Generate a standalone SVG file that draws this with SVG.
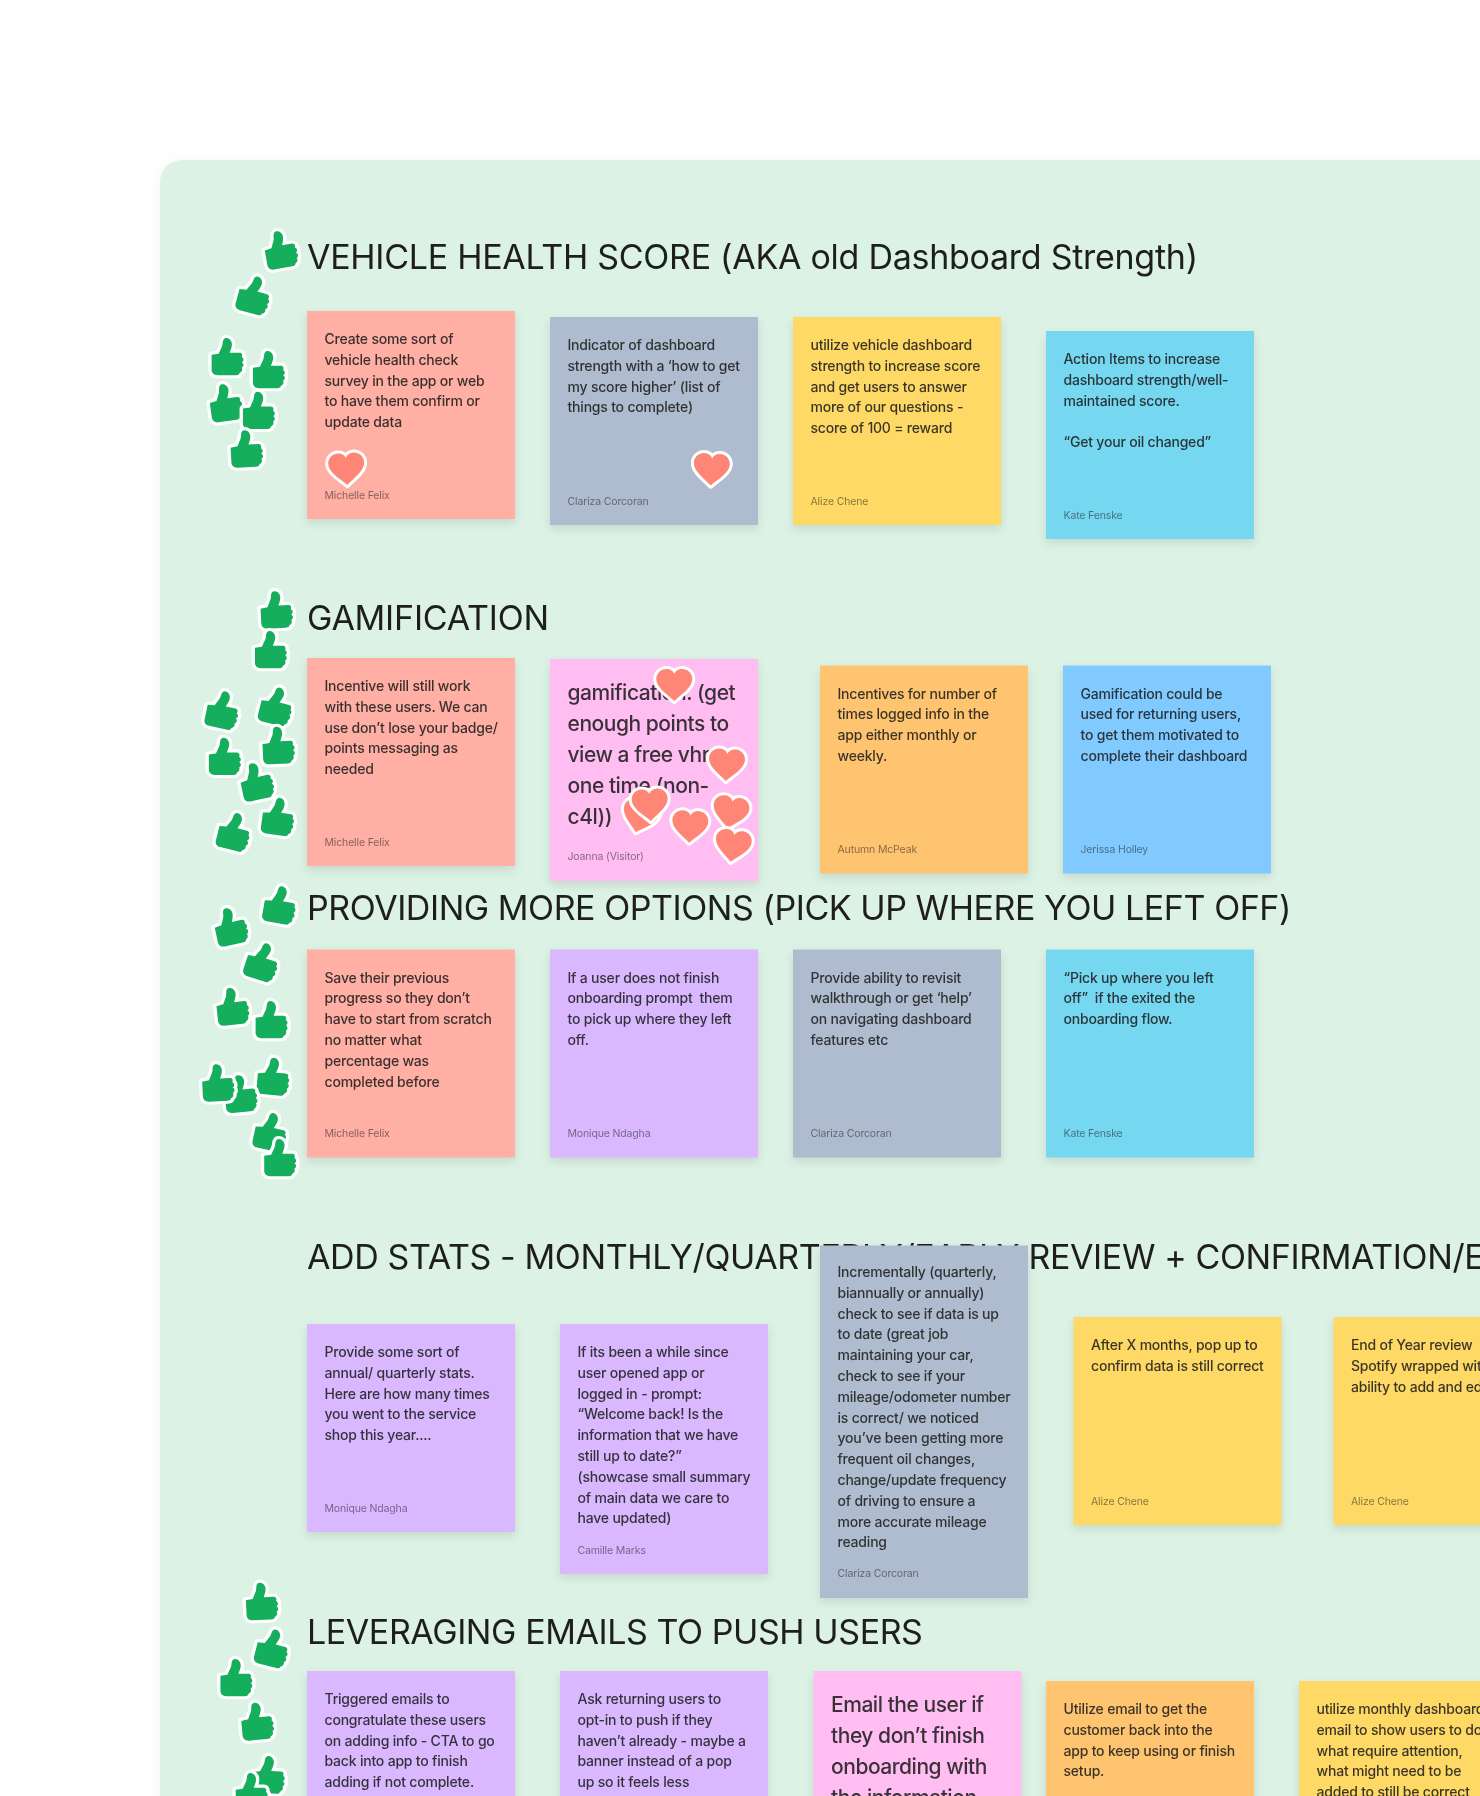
<svg xmlns="http://www.w3.org/2000/svg" width="1480" height="1796" viewBox="0 0 1480 1796">
<defs>
<style>
text{font-family:Inter,"Noto Sans","Liberation Sans",sans-serif}
.t{font-size:34px;fill:#1e1e1e;letter-spacing:-.44px;font-weight:430}
.b{font-size:14px;fill:#1e1e1e;fill-opacity:.88;letter-spacing:-.2px;font-weight:450}
.l{font-size:21px;fill:#1e1e1e;fill-opacity:.88;letter-spacing:-.46px;font-weight:450}
.a{font-size:10.5px;fill:#1e1e1e;fill-opacity:.55;letter-spacing:-.15px}
.s{filter:url(#sh)}
.red{fill:#FFAFA3}.gray{fill:#AFBCCF}.yel{fill:#FFD966}.sky{fill:#75D7F0}.pink{fill:#FFBDF2}.ora{fill:#FFC470}.blu{fill:#80CAFF}.vio{fill:#D9B8FF}
</style>
<filter id="sh" x="-20%" y="-20%" width="140%" height="140%" color-interpolation-filters="sRGB"><feDropShadow dx="0" dy="4" stdDeviation="5" flood-color="#000" flood-opacity=".1"/></filter>
<filter id="ps" x="-5%" y="-5%" width="110%" height="110%" color-interpolation-filters="sRGB"><feDropShadow dx="0" dy="2" stdDeviation="8" flood-color="#000" flood-opacity=".04"/></filter>
<filter id="soft" filterUnits="userSpaceOnUse" x="0" y="0" width="1480" height="1796" color-interpolation-filters="sRGB"><feGaussianBlur stdDeviation=".45"/></filter>
<path id="th" transform="scale(1.16 1.07)" d="M-13 -2L-7 -3L-4 -10C-3 -13 -4 -16 -1.500 -17.500C2 -18.500 4.500 -15 4.500 -12C4.500 -9 3.500 -7 2.500 -4L11 -4C13 -4 14 -2 13 0C15 1 15 4 13 5C15 6 15 9 13 10C14 12 13 14 11 15C11 17 9 17 8 17L-8 17C-11 17 -13 15 -13 12Z" fill="#14AE5C" stroke="#fff" stroke-width="5.800" stroke-linejoin="round" paint-order="stroke"/>
<path id="he" d="M0 16C-6 10 -18 3 -18 -6C-18 -12 -13 -16 -8 -16C-4 -16 -1 -14 0 -11C1 -14 4 -16 8 -16C13 -16 18 -12 18 -6C18 3 6 10 0 16Z" fill="#FF8577" stroke="#fff" stroke-width="6" stroke-linejoin="round" paint-order="stroke"/>
</defs>
<rect width="1480" height="1796" fill="#fff"/>
<g filter="url(#soft)">
<rect id="panel" x="160" y="160" width="1400" height="1700" rx="22" fill="#DCF2E4" filter="url(#ps)"/>
<g id="titles">
<text class="t" x="307" y="269" style="letter-spacing:-.27px">VEHICLE HEALTH SCORE (AKA old Dashboard Strength)</text>
<text class="t" x="307" y="630" style="letter-spacing:-.22px">GAMIFICATION</text>
<text class="t" x="307" y="919.500">PROVIDING MORE OPTIONS (PICK UP WHERE YOU LEFT OFF)</text>
<text class="t" x="307" y="1269" style="letter-spacing:-.38px">ADD STATS - MONTHLY/QUARTERLY/EARLY REVIEW + CONFIRMATION/EDIT</text>
<text class="t" x="307" y="1643.500" style="letter-spacing:-.42px">LEVERAGING EMAILS TO PUSH USERS</text>
</g>
<g id="stickies">
<g id="r1s1" transform="translate(307 311)"><rect class="s red" width="208" height="208"/><text class="b" y="33"><tspan x="17.5">Create some sort of</tspan><tspan x="17.5" dy="20.8">vehicle health check</tspan><tspan x="17.5" dy="20.8">survey in the app or web</tspan><tspan x="17.5" dy="20.8">to have them confirm or</tspan><tspan x="17.5" dy="20.8">update data</tspan></text><text class="a" x="17.5" y="187.500">Michelle Felix</text></g>
<g id="r1s2" transform="translate(550 317)"><rect class="s gray" width="208" height="208"/><text class="b" y="33"><tspan x="17.5">Indicator of dashboard</tspan><tspan x="17.5" dy="20.8">strength with a ‘how to get</tspan><tspan x="17.5" dy="20.8">my score higher’ (list of</tspan><tspan x="17.5" dy="20.8">things to complete)</tspan></text><text class="a" x="17.5" y="187.500">Clariza Corcoran</text></g>
<g id="r1s3" transform="translate(793 317)"><rect class="s yel" width="208" height="208"/><text class="b" y="33"><tspan x="17.5">utilize vehicle dashboard</tspan><tspan x="17.5" dy="20.8">strength to increase score</tspan><tspan x="17.5" dy="20.8">and get users to answer</tspan><tspan x="17.5" dy="20.8">more of our questions -</tspan><tspan x="17.5" dy="20.8">score of 100 = reward</tspan></text><text class="a" x="17.5" y="187.500">Alize Chene</text></g>
<g id="r1s4" transform="translate(1046 331)"><rect class="s sky" width="208" height="208"/><text class="b" y="33"><tspan x="17.5">Action Items to increase</tspan><tspan x="17.5" dy="20.8">dashboard strength/well-</tspan><tspan x="17.5" dy="20.8">maintained score.</tspan><tspan x="17.5" dy="41.6">“Get your oil changed”</tspan></text><text class="a" x="17.5" y="187.500">Kate Fenske</text></g>

<g id="r2s1" transform="translate(307 658)"><rect class="s red" width="208" height="208"/><text class="b" y="33"><tspan x="17.5">Incentive will still work</tspan><tspan x="17.5" dy="20.8">with these users. We can</tspan><tspan x="17.5" dy="20.8">use don’t lose your badge/</tspan><tspan x="17.5" dy="20.8">points messaging as</tspan><tspan x="17.5" dy="20.8">needed</tspan></text><text class="a" x="17.5" y="187.500">Michelle Felix</text></g>
<g id="r2s2" transform="translate(550 659)"><rect class="s pink" width="208" height="222"/><text class="l" y="40.500"><tspan x="17.5">gamification. (get</tspan><tspan x="17.5" dy="31.2">enough points to</tspan><tspan x="17.5" dy="31.2">view a free vhr</tspan><tspan x="17.5" dy="31.2">one time (non-</tspan><tspan x="17.5" dy="31.2">c4l))</tspan></text><text class="a" x="17.5" y="201">Joanna (Visitor)</text></g>
<g id="r2s3" transform="translate(820 665.500)"><rect class="s ora" width="208" height="208"/><text class="b" y="33"><tspan x="17.5">Incentives for number of</tspan><tspan x="17.5" dy="20.8">times logged info in the</tspan><tspan x="17.5" dy="20.8">app either monthly or</tspan><tspan x="17.5" dy="20.8">weekly.</tspan></text><text class="a" x="17.5" y="187.500">Autumn McPeak</text></g>
<g id="r2s4" transform="translate(1063 665.500)"><rect class="s blu" width="208" height="208"/><text class="b" y="33"><tspan x="17.5">Gamification could be</tspan><tspan x="17.5" dy="20.8">used for returning users,</tspan><tspan x="17.5" dy="20.8">to get them motivated to</tspan><tspan x="17.5" dy="20.8">complete their dashboard</tspan></text><text class="a" x="17.5" y="187.500">Jerissa Holley</text></g>

<g id="r3s1" transform="translate(307 949.500)"><rect class="s red" width="208" height="208"/><text class="b" y="33"><tspan x="17.5">Save their previous</tspan><tspan x="17.5" dy="20.8">progress so they don’t</tspan><tspan x="17.5" dy="20.8">have to start from scratch</tspan><tspan x="17.5" dy="20.8">no matter what</tspan><tspan x="17.5" dy="20.8">percentage was</tspan><tspan x="17.5" dy="20.8">completed before</tspan></text><text class="a" x="17.5" y="187.500">Michelle Felix</text></g>
<g id="r3s2" transform="translate(550 949.500)"><rect class="s vio" width="208" height="208"/><text class="b" y="33"><tspan x="17.5">If a user does not finish</tspan><tspan x="17.5" dy="20.8" xml:space="preserve">onboarding prompt  them</tspan><tspan x="17.5" dy="20.8">to pick up where they left</tspan><tspan x="17.5" dy="20.8">off.</tspan></text><text class="a" x="17.5" y="187.500">Monique Ndagha</text></g>
<g id="r3s3" transform="translate(793 949.500)"><rect class="s gray" width="208" height="208"/><text class="b" y="33"><tspan x="17.5">Provide ability to revisit</tspan><tspan x="17.5" dy="20.8">walkthrough or get ‘help’</tspan><tspan x="17.5" dy="20.8">on navigating dashboard</tspan><tspan x="17.5" dy="20.8">features etc</tspan></text><text class="a" x="17.5" y="187.500">Clariza Corcoran</text></g>
<g id="r3s4" transform="translate(1046 949.500)"><rect class="s sky" width="208" height="208"/><text class="b" y="33"><tspan x="17.5">“Pick up where you left</tspan><tspan x="17.5" dy="20.8" xml:space="preserve">off”  if the exited the</tspan><tspan x="17.5" dy="20.8">onboarding flow.</tspan></text><text class="a" x="17.5" y="187.500">Kate Fenske</text></g>

<g id="r4s1" transform="translate(307 1324)"><rect class="s vio" width="208" height="208"/><text class="b" y="33"><tspan x="17.5">Provide some sort of</tspan><tspan x="17.5" dy="20.8">annual/ quarterly stats.</tspan><tspan x="17.5" dy="20.8">Here are how many times</tspan><tspan x="17.5" dy="20.8">you went to the service</tspan><tspan x="17.5" dy="20.8">shop this year....</tspan></text><text class="a" x="17.5" y="187.500">Monique Ndagha</text></g>
<g id="r4s2" transform="translate(560 1324)"><rect class="s vio" width="208" height="250"/><text class="b" y="33"><tspan x="17.5">If its been a while since</tspan><tspan x="17.5" dy="20.8">user opened app or</tspan><tspan x="17.5" dy="20.8">logged in - prompt:</tspan><tspan x="17.5" dy="20.8">“Welcome back! Is the</tspan><tspan x="17.5" dy="20.8">information that we have</tspan><tspan x="17.5" dy="20.8">still up to date?”</tspan><tspan x="17.5" dy="20.8">(showcase small summary</tspan><tspan x="17.5" dy="20.8">of main data we care to</tspan><tspan x="17.5" dy="20.8">have updated)</tspan></text><text class="a" x="17.5" y="229.500">Camille Marks</text></g>
<g id="r4s3" transform="translate(820 1245.500)"><rect class="s gray" width="208" height="352.500"/><text class="b" y="31.500"><tspan x="17.5">Incrementally (quarterly,</tspan><tspan x="17.5" dy="20.8">biannually or annually)</tspan><tspan x="17.5" dy="20.8">check to see if data is up</tspan><tspan x="17.5" dy="20.8">to date (great job</tspan><tspan x="17.5" dy="20.8">maintaining your car,</tspan><tspan x="17.5" dy="20.8">check to see if your</tspan><tspan x="17.5" dy="20.8">mileage/odometer number</tspan><tspan x="17.5" dy="20.8">is correct/ we noticed</tspan><tspan x="17.5" dy="20.8">you’ve been getting more</tspan><tspan x="17.5" dy="20.8">frequent oil changes,</tspan><tspan x="17.5" dy="20.8">change/update frequency</tspan><tspan x="17.5" dy="20.8">of driving to ensure a</tspan><tspan x="17.5" dy="20.8">more accurate mileage</tspan><tspan x="17.5" dy="20.8">reading</tspan></text><text class="a" x="17.5" y="331.500">Clariza Corcoran</text></g>
<g id="r4s4" transform="translate(1073.5 1317)"><rect class="s yel" width="208" height="208"/><text class="b" y="33"><tspan x="17.5">After X months, pop up to</tspan><tspan x="17.5" dy="20.8">confirm data is still correct</tspan></text><text class="a" x="17.5" y="187.500">Alize Chene</text></g>
<g id="r4s5" transform="translate(1333.5 1317)"><rect class="s yel" width="208" height="208"/><text class="b" y="33"><tspan x="17.5">End of Year review</tspan><tspan x="17.5" dy="20.8">Spotify wrapped with</tspan><tspan x="17.5" dy="20.8">ability to add and edit</tspan></text><text class="a" x="17.5" y="187.500">Alize Chene</text></g>

<g id="r5s1" transform="translate(307 1671)"><rect class="s vio" width="208" height="208"/><text class="b" y="33"><tspan x="17.5">Triggered emails to</tspan><tspan x="17.5" dy="20.8">congratulate these users</tspan><tspan x="17.5" dy="20.8">on adding info - CTA to go</tspan><tspan x="17.5" dy="20.8">back into app to finish</tspan><tspan x="17.5" dy="20.8">adding if not complete.</tspan></text></g>
<g id="r5s2" transform="translate(560 1671)"><rect class="s vio" width="208" height="208"/><text class="b" y="33"><tspan x="17.5">Ask returning users to</tspan><tspan x="17.5" dy="20.8">opt-in to push if they</tspan><tspan x="17.5" dy="20.8">haven’t already - maybe a</tspan><tspan x="17.5" dy="20.8">banner instead of a pop</tspan><tspan x="17.5" dy="20.8">up so it feels less</tspan></text></g>
<g id="r5s3" transform="translate(813.5 1671)"><rect class="s pink" width="208" height="222"/><text class="l" y="40.500"><tspan x="17.5">Email the user if</tspan><tspan x="17.5" dy="31.2">they don’t finish</tspan><tspan x="17.5" dy="31.2">onboarding with</tspan><tspan x="17.5" dy="31.2">the information</tspan></text></g>
<g id="r5s4" transform="translate(1046 1681)"><rect class="s ora" width="208" height="208"/><text class="b" y="33"><tspan x="17.5">Utilize email to get the</tspan><tspan x="17.5" dy="20.8">customer back into the</tspan><tspan x="17.5" dy="20.8">app to keep using or finish</tspan><tspan x="17.5" dy="20.8">setup.</tspan></text></g>
<g id="r5s5" transform="translate(1299 1681)"><rect class="s yel" width="208" height="208"/><text class="b" y="33"><tspan x="17.5">utilize monthly dashboard</tspan><tspan x="17.5" dy="20.8">email to show users to do</tspan><tspan x="17.5" dy="20.8">what require attention,</tspan><tspan x="17.5" dy="20.8">what might need to be</tspan><tspan x="17.5" dy="20.8">added to still be correct</tspan></text></g>
</g>
<g id="hearts">
<use href="#he" transform="translate(346.5 469) rotate(-3)"/>
<use href="#he" transform="translate(711.500 469.500) rotate(3)"/>
<use href="#he" transform="translate(674.3 685)"/>
<use href="#he" transform="translate(726.7 765) rotate(3)"/>
<use href="#he" transform="translate(640 816.7) rotate(15)"/>
<use href="#he" transform="translate(650 805) rotate(-3)"/>
<use href="#he" transform="translate(690 826.7) rotate(3)"/>
<use href="#he" transform="translate(730.500 812.500) rotate(10)"/>
<use href="#he" transform="translate(733 846) rotate(8)"/>
</g>
<g id="thumbs">
<use href="#th" transform="translate(280 250) rotate(-10)"/>
<use href="#th" transform="translate(253.5 295) rotate(15)"/>
<use href="#th" transform="translate(226.7 357)"/>
<use href="#th" transform="translate(268 370)"/>
<use href="#th" transform="translate(225 403) rotate(-8)"/>
<use href="#th" transform="translate(258 410.7)"/>
<use href="#th" transform="translate(245.8 449) rotate(-3)"/>

<use href="#th" transform="translate(275.7 610) rotate(-3)"/>
<use href="#th" transform="translate(270 650)"/>
<use href="#th" transform="translate(222 710) rotate(12)"/>
<use href="#th" transform="translate(275.7 706) rotate(14)"/>
<use href="#th" transform="translate(224 756.7)"/>
<use href="#th" transform="translate(277.6 745.7) rotate(-3)"/>
<use href="#th" transform="translate(255.8 781.7) rotate(-12)"/>
<use href="#th" transform="translate(277.6 816.7) rotate(8)"/>
<use href="#th" transform="translate(233.6 831.7) rotate(14)"/>

<use href="#th" transform="translate(279.3 905) rotate(10)"/>
<use href="#th" transform="translate(230 926.7) rotate(-12)"/>
<use href="#th" transform="translate(261.7 961.7) rotate(18)"/>
<use href="#th" transform="translate(231.7 1006.7) rotate(-6)"/>
<use href="#th" transform="translate(270.7 1020)"/>
<use href="#th" transform="translate(272.7 1076.7) rotate(5)"/>
<use href="#th" transform="translate(240 1094) rotate(-5)"/>
<use href="#th" transform="translate(217.3 1083) rotate(-3)"/>
<use href="#th" transform="translate(270 1131.7) rotate(12)"/>
<use href="#th" transform="translate(279.3 1158)"/>

<use href="#th" transform="translate(261 1601.7) rotate(-3)"/>
<use href="#th" transform="translate(271.8 1648) rotate(14)"/>
<use href="#th" transform="translate(235.5 1678)"/>
<use href="#th" transform="translate(256.5 1721.7) rotate(-5)"/>
<use href="#th" transform="translate(268 1775) rotate(3)"/>
<use href="#th" transform="translate(250.8 1792)"/>
</g>
</g>
</svg>
